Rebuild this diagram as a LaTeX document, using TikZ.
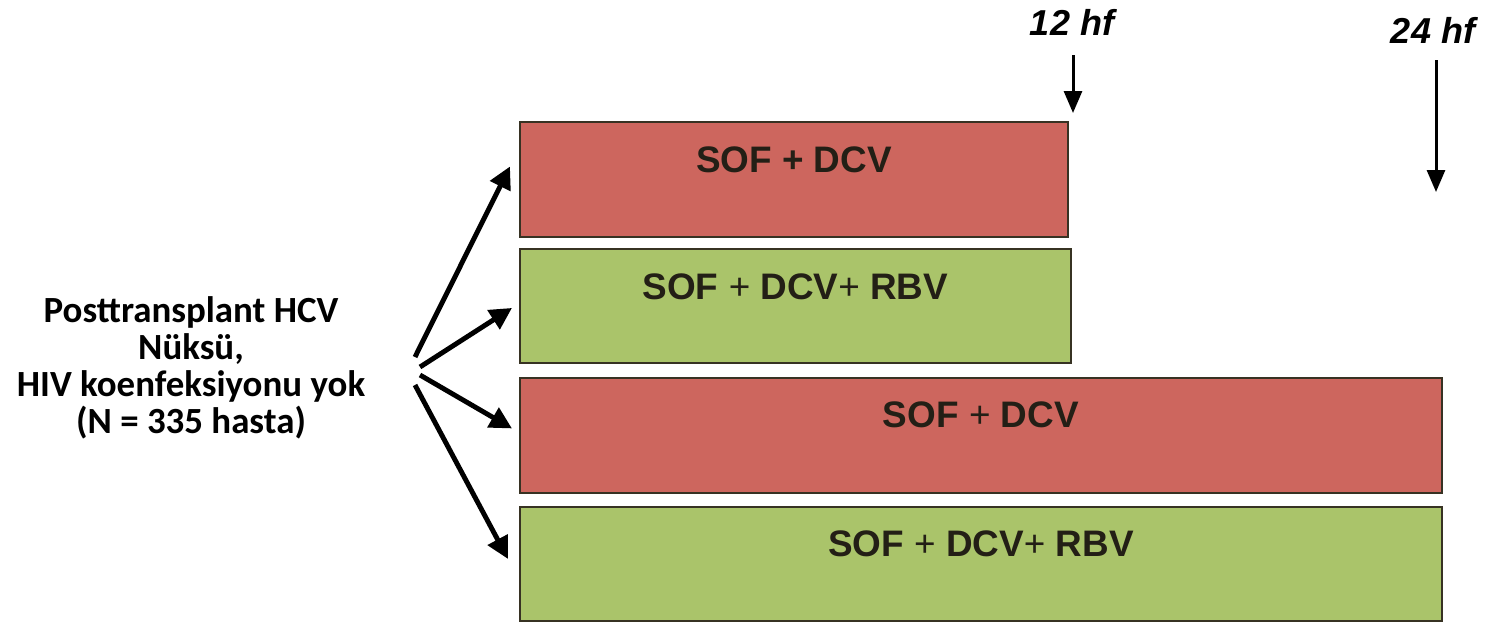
\documentclass[tikz,border=0pt]{standalone}
\usepackage{fontspec}
\setmainfont{Liberation Sans}
\newfontfamily\calibri{Carlito}
\usetikzlibrary{arrows.meta}
\definecolor{armred}{RGB}{205,102,94}
\definecolor{armgreen}{RGB}{170,196,106}
\definecolor{edgegray}{RGB}{55,50,35}
\definecolor{inkdark}{RGB}{35,31,22}

\tikzset{
  armbox/.style={draw=edgegray, line width=1.1pt, rectangle, inner sep=0pt,
    anchor=north west, minimum height=2.3cm},
  armtext/.style={font=\fontsize{21}{25}\selectfont\bfseries, text=inkdark},
  weeklabel/.style={font=\fontsize{20.5}{24}\selectfont\bfseries\itshape},
  fanarrow/.style={line width=2.8pt, -{Triangle[length=0.44cm,width=0.44cm]}},
  weekarrow/.style={line width=1.7pt, -{Triangle[length=0.44cm,width=0.36cm]}}
}

\begin{document}
\begin{tikzpicture}[x=0.02cm,y=-0.02cm]

% Frame
\useasboundingbox (0,0) rectangle (1492,622);

% Treatment arms
\node[armbox, fill=armred, minimum width=10.96cm] (b1) at (519,121) {};
\node[armbox, fill=armgreen, minimum width=11.02cm, minimum height=2.28cm] (b2) at (519,248) {};
\node[armbox, fill=armred, minimum width=18.44cm] (b3) at (519,377) {};
\node[armbox, fill=armgreen, minimum width=18.44cm, minimum height=2.28cm] (b4) at (519,506) {};

% Arm labels
\node[armtext] (t1) at ([yshift=-0.78cm]b1.north) {SOF + DCV};
\node[armtext] (t2) at ([yshift=-0.78cm]b2.north) {SOF {\mdseries+} DCV{\mdseries+} RBV};
\node[armtext] (t3) at ([yshift=-0.76cm]b3.north) {SOF {\mdseries+} DCV};
\node[armtext] (t4) at ([yshift=-0.76cm]b4.north) {SOF {\mdseries+} DCV{\mdseries+} RBV};

% Patient group
\node[font=\calibri\fontsize{21}{21}\selectfont\bfseries, align=center] (grp) at (191,368)
  {Posttransplant HCV\\Nüksü,\\HIV koenfeksiyonu yok\\(N = 335 hasta)};

% Fan of arrows
\coordinate (hub) at (417,371);
\draw[fanarrow] ([shift={(-2,-14)}]hub) -- ([shift={(-9,-13)}]b1.west);
\draw[fanarrow] ([shift={(3,-4)}]hub) -- ([shift={(-7,2)}]b2.west);
\draw[fanarrow] ([shift={(3,4)}]hub) -- ([shift={(-7,-7)}]b3.west);
\draw[fanarrow] ([shift={(-2,14)}]hub) -- ([shift={(-11,-5)}]b4.west);

% Week markers
\node[weeklabel] (w12) at (1072,22) {12 hf};
\node[weeklabel] (w24) at (1433,30) {24 hf};
\coordinate (s12) at (1073,55);
\coordinate (e12) at (1073,113);
\coordinate (s24) at (1436,60);
\coordinate (e24) at (1436,192);
\draw[weekarrow] (s12) -- (e12);
\draw[weekarrow] (s24) -- (e24);

\end{tikzpicture}
\end{document}
